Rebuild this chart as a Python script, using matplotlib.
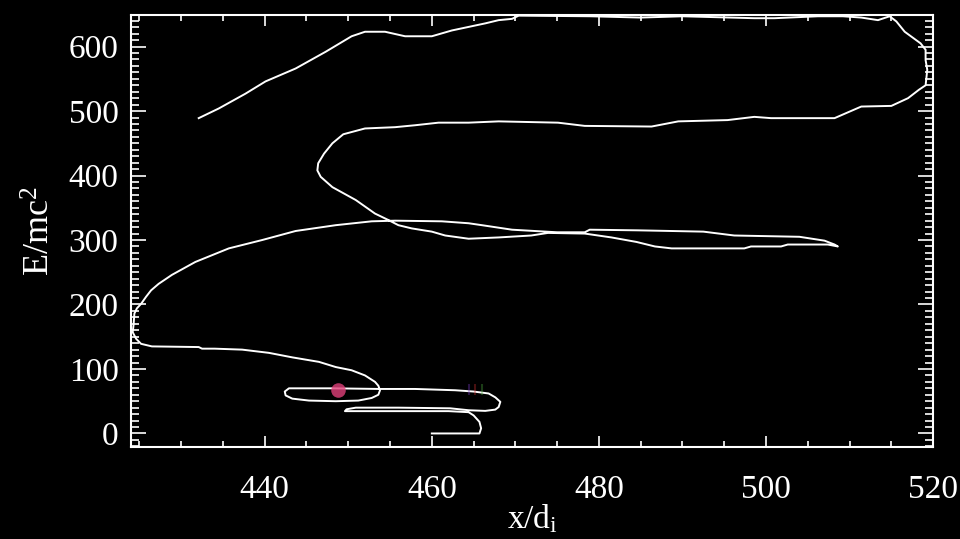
import matplotlib
matplotlib.use('Agg')
import matplotlib.pyplot as plt
from matplotlib.ticker import MultipleLocator

# particle orbit: position x/d_i and energy E/mc^2 (in time order)
x_pos = [460.0, 465.7, 465.9, 465.7, 465.0, 464.4, 462.0, 455.0, 449.6, 449.8,
         450.9, 456.0, 462.2, 464.4, 466.4, 467.6, 468.0, 468.2, 467.6, 466.8,
         465.0, 462.8, 458.0, 453.8, 448.0, 442.9, 442.4, 442.5, 443.3, 445.3,
         448.5, 451.2, 452.8, 453.6, 453.8, 453.6, 453.2, 452.0, 450.4, 448.5,
         446.5, 443.3, 440.5, 437.3, 434.0, 432.5, 432.1, 426.5, 425.2, 424.6,
         424.2, 424.3, 424.4, 424.7, 425.2, 425.8, 426.4, 427.3, 428.9, 431.7,
         435.7, 439.7, 443.7, 448.5, 452.8, 455.6, 461.2, 464.4, 466.0, 469.6,
         472.4, 475.0, 478.3, 478.9, 484.7, 492.5, 496.2, 504.0, 507.0, 508.2,
         508.6, 507.4, 502.6, 501.8, 498.2, 497.4, 488.7, 486.7, 484.5, 481.5,
         478.3, 473.9, 471.9, 468.0, 464.4, 461.6, 460.0, 457.6, 456.0, 454.8,
         453.2, 450.9, 448.1, 446.7, 446.3, 446.4, 447.1, 448.1, 449.4, 452.0,
         455.6, 458.0, 460.8, 464.4, 468.0, 475.1, 478.3, 486.3, 489.5, 495.4,
         498.6, 500.6, 508.2, 511.4, 515.0, 517.0, 518.3, 519.1, 519.3, 519.1,
         519.1, 518.5, 516.6, 515.6, 514.8, 513.4, 511.4, 509.2, 506.2, 501.0,
         498.6, 490.0, 485.0, 479.0, 471.0, 470.4, 469.6, 468.0, 466.4, 462.4,
         460.0, 456.8, 454.4, 452.0, 450.4, 447.3, 443.7, 440.1, 437.7, 434.5,
         432.1]
energy = [0, 0, 8, 18, 28, 33, 34.6, 34.6, 34.6, 37.5,
          40, 40, 39, 36, 35, 37, 41, 49, 56, 62,
          65, 67, 69, 69, 70, 70, 65, 59, 54, 51,
          50, 51, 55, 60, 67, 74, 80, 90, 98, 103,
          111, 118, 125, 130, 131.5, 131.5, 134, 135, 139, 147,
          157, 168, 186, 194, 201, 212, 222, 232, 246, 266,
          287, 300, 314, 323, 329, 330, 329, 326, 323, 316,
          314, 312, 312, 316, 315, 313, 307, 305, 299, 293,
          290, 293, 293, 290, 290, 287, 287, 290, 297, 304,
          310, 311, 307, 304, 302, 307, 313, 318, 323, 331,
          341, 362, 382, 398, 408, 419, 434, 450, 464, 473,
          475, 478, 482, 482, 484, 482, 477, 476, 484, 486,
          491, 489, 489, 507, 508, 520, 533, 540, 564, 579,
          595, 605, 623, 639, 647, 641, 645, 647, 647, 644,
          644, 647, 645, 647, 648, 648, 643, 641, 636, 625,
          616, 616, 623, 623, 616, 592, 566, 546, 527, 504,
          489]

# coloured marks sitting on the lower loops
blob_x = [448.8]
blob_e = [67]
tick_x = [464.4, 465.2, 466.0]
tick_e = [68, 68, 68]
tick_c = ['#7a3cc8', '#d23030', '#50b040']

x_ticks = [440, 460, 480, 500, 520]
e_ticks = [0, 100, 200, 300, 400, 500, 600]

plt.rcParams['font.family'] = ['Liberation Serif', 'DejaVu Serif']
plt.rcParams['mathtext.fontset'] = 'custom'
plt.rcParams['mathtext.rm'] = 'Liberation Serif'
plt.rcParams['mathtext.it'] = 'Liberation Serif:italic'

fig = plt.figure(figsize=(9.6, 5.39), dpi=100, facecolor='black')
ax = fig.add_axes([0.1365, 0.1707, 0.8355, 0.8015], facecolor='black')

ax.plot(x_pos, energy, color='white', lw=1.4, solid_joinstyle='round')
ax.scatter(blob_x, blob_e, s=110, color='#e0407a', alpha=0.8, lw=0, zorder=3)
ax.scatter(tick_x, tick_e, s=60, c=tick_c, marker='|', alpha=0.35, zorder=3)

ax.set_xlim(424, 520)
ax.set_ylim(-21, 649)
ax.set_xticks(x_ticks)
ax.set_yticks(e_ticks)
ax.xaxis.set_minor_locator(MultipleLocator(5))
ax.yaxis.set_minor_locator(MultipleLocator(10))

for s in ax.spines.values():
    s.set_color('white')
    s.set_linewidth(1.5)

ax.tick_params(axis='both', which='both', direction='in', colors='white',
               top=True, right=True, width=1.2, labelsize=24)
ax.tick_params(axis='x', which='major', length=8, pad=20)
ax.tick_params(axis='x', which='minor', length=4)
ax.tick_params(axis='y', which='major', length=11, pad=9)
ax.tick_params(axis='y', which='minor', length=6)

ax.set_xlabel(r'$\mathrm{x/d_i}$', color='white', fontsize=24, labelpad=-2)
ax.set_ylabel(r'$\mathrm{E/mc^2}$', color='white', fontsize=26, labelpad=8)

fig.savefig('out.png', dpi=100, facecolor='black')
